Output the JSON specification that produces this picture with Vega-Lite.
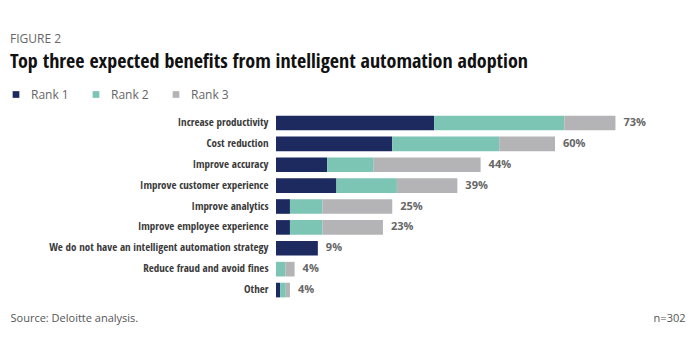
{
  "$schema": "https://vega.github.io/schema/vega-lite/v6.json",
  "width": 372,
  "height": 188,
  "autosize": {"type": "none"},
  "padding": {"left": 276, "top": 112.5, "right": 52, "bottom": 39.5},
  "background": "white",
  "title": {
    "text": "FIGURE 2",
    "subtitle": "Top three expected benefits from intelligent automation adoption",
    "anchor": "start",
    "frame": "group",
    "dx": -266,
    "offset": 16,
    "font": "Open Sans",
    "fontSize": 12,
    "fontWeight": "normal",
    "color": "#666666",
    "subtitleFont": "Open Sans Condensed, sans-serif",
    "subtitleFontSize": 20,
    "subtitleFontWeight": "bold",
    "subtitleColor": "#111111",
    "subtitlePadding": 6
  },
  "datasets": {
    "bars": [
      {"benefit": "Increase productivity", "rank": "Rank 1", "value": 34},
      {"benefit": "Increase productivity", "rank": "Rank 2", "value": 28},
      {"benefit": "Increase productivity", "rank": "Rank 3", "value": 11},
      {"benefit": "Cost reduction", "rank": "Rank 1", "value": 25},
      {"benefit": "Cost reduction", "rank": "Rank 2", "value": 23},
      {"benefit": "Cost reduction", "rank": "Rank 3", "value": 12},
      {"benefit": "Improve accuracy", "rank": "Rank 1", "value": 11},
      {"benefit": "Improve accuracy", "rank": "Rank 2", "value": 10},
      {"benefit": "Improve accuracy", "rank": "Rank 3", "value": 23},
      {"benefit": "Improve customer experience", "rank": "Rank 1", "value": 13},
      {"benefit": "Improve customer experience", "rank": "Rank 2", "value": 13},
      {"benefit": "Improve customer experience", "rank": "Rank 3", "value": 13},
      {"benefit": "Improve analytics", "rank": "Rank 1", "value": 3},
      {"benefit": "Improve analytics", "rank": "Rank 2", "value": 7},
      {"benefit": "Improve analytics", "rank": "Rank 3", "value": 15},
      {"benefit": "Improve employee experience", "rank": "Rank 1", "value": 3},
      {"benefit": "Improve employee experience", "rank": "Rank 2", "value": 7},
      {"benefit": "Improve employee experience", "rank": "Rank 3", "value": 13},
      {"benefit": "We do not have an intelligent automation strategy", "rank": "Rank 1", "value": 9},
      {"benefit": "Reduce fraud and avoid fines", "rank": "Rank 2", "value": 2},
      {"benefit": "Reduce fraud and avoid fines", "rank": "Rank 3", "value": 2},
      {"benefit": "Other", "rank": "Rank 1", "value": 0.9},
      {"benefit": "Other", "rank": "Rank 2", "value": 1.2},
      {"benefit": "Other", "rank": "Rank 3", "value": 0.9}
    ],
    "totals": [
      {"benefit": "Increase productivity", "total": 73, "label": "73%"},
      {"benefit": "Cost reduction", "total": 60, "label": "60%"},
      {"benefit": "Improve accuracy", "total": 44, "label": "44%"},
      {"benefit": "Improve customer experience", "total": 39, "label": "39%"},
      {"benefit": "Improve analytics", "total": 25, "label": "25%"},
      {"benefit": "Improve employee experience", "total": 23, "label": "23%"},
      {"benefit": "We do not have an intelligent automation strategy", "total": 9, "label": "9%"},
      {"benefit": "Reduce fraud and avoid fines", "total": 4, "label": "4%"},
      {"benefit": "Other", "total": 3, "label": "4%"}
    ]
  },
  "layer": [
    {
      "data": {"name": "bars"},
      "mark": {"type": "bar"},
      "encoding": {
        "y": {
          "field": "benefit",
          "type": "nominal",
          "sort": ["Increase productivity", "Cost reduction", "Improve accuracy", "Improve customer experience", "Improve analytics", "Improve employee experience", "We do not have an intelligent automation strategy", "Reduce fraud and avoid fines", "Other"],
          "scale": {"paddingInner": 0.3, "paddingOuter": 0.15},
          "axis": {
            "title": "n=302",
            "titleAngle": 0,
            "titleX": 409,
            "titleY": 205.5,
            "titleAlign": "right",
            "titleBaseline": "middle",
            "titleFont": "Open Sans",
            "titleFontSize": 11,
            "titleFontWeight": "normal",
            "titleColor": "#555555",
            "labelFont": "Open Sans Condensed, sans-serif",
            "labelFontSize": 11,
            "labelFontWeight": "bold",
            "labelColor": "#3a3a3a",
            "labelPadding": 8,
            "labelLimit": 300,
            "ticks": false,
            "domain": false
          }
        },
        "x": {
          "field": "value",
          "type": "quantitative",
          "stack": "zero",
          "scale": {"domain": [0, 80], "nice": false},
          "axis": {
            "title": "Source: Deloitte analysis.",
            "titleX": -266,
            "titleY": 17.5,
            "titleAlign": "left",
            "titleBaseline": "middle",
            "titleFont": "Open Sans",
            "titleFontSize": 11,
            "titleFontWeight": "normal",
            "titleColor": "#555555",
            "labels": false,
            "ticks": false,
            "domain": false,
            "grid": false
          }
        },
        "color": {
          "field": "rank",
          "type": "nominal",
          "scale": {"domain": ["Rank 1", "Rank 2", "Rank 3"], "range": ["#1c2a5f", "#7cc5b5", "#b4b4b6"]},
          "legend": {
            "title": null,
            "orient": "none",
            "legendX": -266,
            "legendY": -24,
            "direction": "horizontal",
            "symbolType": "square",
            "symbolSize": 45,
            "symbolStrokeWidth": 0,
            "labelFont": "Open Sans",
            "labelFontSize": 12,
            "labelColor": "#666666",
            "labelOffset": 9,
            "columnPadding": 21
          }
        },
        "order": {"field": "rank"}
      }
    },
    {
      "data": {"name": "totals"},
      "mark": {"type": "text", "align": "left", "baseline": "middle", "dx": 8, "font": "Open Sans", "fontSize": 11, "fontWeight": "bold", "color": "#666666"},
      "encoding": {
        "y": {"field": "benefit", "type": "nominal", "sort": ["Increase productivity", "Cost reduction", "Improve accuracy", "Improve customer experience", "Improve analytics", "Improve employee experience", "We do not have an intelligent automation strategy", "Reduce fraud and avoid fines", "Other"]},
        "x": {"field": "total", "type": "quantitative"},
        "text": {"field": "label"}
      }
    }
  ],
  "config": {"view": {"stroke": null}}
}
